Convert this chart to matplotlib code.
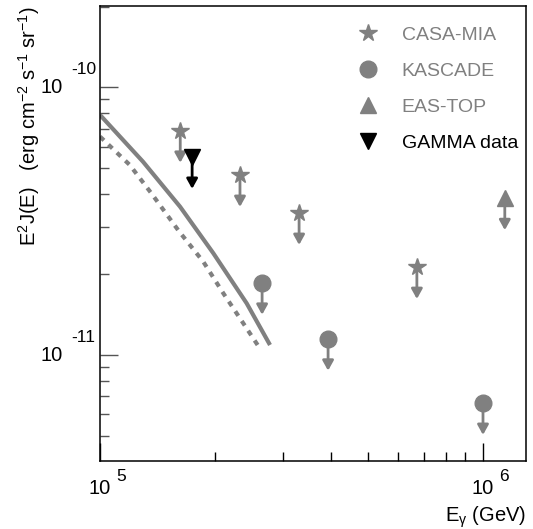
import matplotlib
matplotlib.use("Agg")
import matplotlib.pyplot as plt
from matplotlib.lines import Line2D
from matplotlib.transforms import blended_transform_factory, offset_copy

plt.rcParams['font.family'] = ['Liberation Sans', 'DejaVu Sans']
plt.rcParams['mathtext.fontset'] = 'custom'
plt.rcParams['mathtext.rm'] = 'Liberation Sans'
plt.rcParams['mathtext.it'] = 'Liberation Sans:italic'

# upper limits, E in GeV, E^2 J(E) in erg cm^-2 s^-1 sr^-1
casa_E = [1.62e5, 2.32e5, 3.31e5, 6.72e5]
casa_J = [6.87e-11, 4.70e-11, 3.39e-11, 2.13e-11]
kascade_E = [2.65e5, 3.94e5, 1.0e6]
kascade_J = [1.86e-11, 1.15e-11, 6.62e-12]
eastop_E = [1.14e6]
eastop_J = [3.85e-11]
gamma_E = [1.74e5]
gamma_J = [5.49e-11]

# model curves
solid_E = [1.0e5, 1.295e5, 1.618e5, 1.976e5, 2.415e5, 2.779e5]
solid_J = [7.88e-11, 5.27e-11, 3.58e-11, 2.40e-11, 1.56e-11, 1.09e-11]
dot_E = [1.0e5, 1.195e5, 1.361e5, 1.607e5, 1.861e5, 2.099e5, 2.367e5, 2.63e5]
dot_J = [6.54e-11, 5.13e-11, 4.02e-11, 2.90e-11, 2.23e-11, 1.70e-11, 1.313e-11, 1.045e-11]

xticks = [1e5, 1e6]
xtick_exp = ['5', '6']
yticks = [1e-10, 1e-11]
ytick_exp = ['-10', '-11']

grey = '#808080'
arrow_f = 0.76

fig = plt.figure(figsize=(5.33, 5.29), dpi=100)
ax = fig.add_axes([100/533, 68/529, 426/533, 455/529])
ax.set_xscale('log')
ax.set_yscale('log')
ax.set_xlim(1e5, 1.295e6)
ax.set_ylim(4.02e-12, 2.01e-10)

ax.plot(solid_E, solid_J, color=grey, lw=3, solid_capstyle='butt', solid_joinstyle='round')
ax.plot(dot_E, dot_J, color=grey, lw=3, linestyle=(0, (1.3, 1.5)), dash_capstyle='butt')


def limits(E, J, marker, ms, color):
    for e, j in zip(E, J):
        ax.annotate('', xy=(e, j*arrow_f), xytext=(e, j),
                    arrowprops=dict(arrowstyle='-|>,head_length=0.45,head_width=0.25',
                                    color=color, lw=2, shrinkA=0, shrinkB=0,
                                    mutation_scale=13))
    ax.plot(E, J, linestyle='none', marker=marker, ms=ms, color=color, mec=color, zorder=3)


limits(casa_E, casa_J, '*', 13, grey)
limits(kascade_E, kascade_J, 'o', 12, grey)
limits(eastop_E, eastop_J, '^', 12, grey)
limits(gamma_E, gamma_J, 'v', 12, 'black')

for s in ax.spines.values():
    s.set_linewidth(1.1)
ax.tick_params(which='both', direction='in', labelleft=False, labelbottom=False,
               left=True, bottom=True, top=False, right=False)
ax.tick_params(axis='y', which='major', length=13, width=1, color='#555555')
ax.tick_params(axis='y', which='minor', length=6.5, width=1, color='#555555')
ax.tick_params(axis='x', which='major', length=13, width=1)
ax.tick_params(axis='x', which='minor', length=6.5, width=1)

ty = blended_transform_factory(ax.transAxes, ax.transData)
for v, ex in zip(yticks, ytick_exp):
    ax.text(0, v, '10', transform=offset_copy(ty, fig, x=-26.5, y=0, units='points'),
            ha='right', va='center', fontsize=14.5)
    ax.text(0, v, ex, transform=offset_copy(ty, fig, x=-21, y=12.5, units='points'),
            ha='left', va='center', fontsize=12.5)
tx = blended_transform_factory(ax.transData, ax.transAxes)
for v, ex in zip(xticks, xtick_exp):
    ax.text(v, 0, '10', transform=offset_copy(tx, fig, x=0, y=-19.5, units='points'),
            ha='center', va='center', fontsize=14.5)
    ax.text(v, 0, ex, transform=offset_copy(tx, fig, x=11.5, y=-11, units='points'),
            ha='left', va='center', fontsize=12.5)

ax.set_xlabel(r'E$_{\mathregular{\gamma}}$ (GeV)', fontsize=14.5, loc='right')
ax.xaxis.set_label_coords(1.0, -0.095)
ax.set_ylabel(r'E$^{2}$J(E)   (erg cm$^{-2}$ s$^{-1}$ sr$^{-1}$)', fontsize=14.5, loc='top')
ax.yaxis.set_label_coords(-0.137, 1.0)

handles = [
    Line2D([], [], linestyle='none', marker='*', ms=13, color=grey),
    Line2D([], [], linestyle='none', marker='o', ms=12, color=grey),
    Line2D([], [], linestyle='none', marker='^', ms=12, color=grey),
    Line2D([], [], linestyle='none', marker='v', ms=12, color='black'),
]
labels = ['CASA-MIA', 'KASCADE', 'EAS-TOP', 'GAMMA data']
ax.legend(handles, labels, loc='upper left', bbox_to_anchor=(358/533, 1 - 26/529),
          bbox_transform=fig.transFigure, frameon=False, fontsize=14,
          labelcolor=[grey, grey, grey, 'black'], handlelength=1.0,
          handletextpad=1.25, labelspacing=0.95, borderpad=0, borderaxespad=0)

fig.savefig('out.png', dpi=100)
